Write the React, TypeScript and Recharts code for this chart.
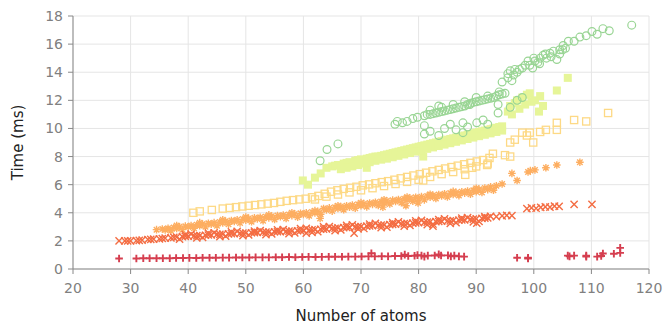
import { ScatterChart, Scatter, XAxis, YAxis, CartesianGrid, Label } from 'recharts';

type Pt = [number, number];

const X_TICKS = [20, 30, 40, 50, 60, 70, 80, 90, 100, 110, 120];
const Y_TICKS = [0, 2, 4, 6, 8, 10, 12, 14, 16, 18];

// crimson plus markers
const plusPts: Pt[] = [
  [28.0, 0.75], [31.0, 0.75], [32.2, 0.76], [33.3, 0.76], [34.5, 0.77], [35.6, 0.77], [36.8, 0.77],
  [37.9, 0.78], [39.1, 0.78], [40.2, 0.79], [41.4, 0.78], [42.5, 0.8], [43.7, 0.8], [44.8, 0.8],
  [46.0, 0.81], [47.1, 0.81], [48.3, 0.82], [49.4, 0.82], [50.6, 0.82], [51.7, 0.83], [52.9, 0.83],
  [54.0, 0.83], [55.2, 0.84], [56.3, 0.84], [57.5, 0.85], [58.6, 0.84], [59.8, 0.85], [60.9, 0.86],
  [62.1, 0.85], [63.2, 0.86], [64.4, 0.87], [65.5, 0.87], [66.7, 0.87], [67.8, 0.88], [69.0, 0.88],
  [70.1, 0.89], [71.3, 0.9], [71.8, 1.12], [72.4, 0.9], [73.6, 0.91], [74.7, 0.9], [75.9, 0.92],
  [77.0, 0.93], [77.6, 1.02], [78.2, 0.92], [79.3, 0.94], [79.8, 0.99], [80.5, 0.95], [81.0, 0.88],
  [81.6, 0.95], [82.8, 0.96], [83.5, 1.04], [83.9, 0.96], [85.1, 0.97], [85.6, 0.9], [86.2, 0.95],
  [87.0, 0.9], [87.9, 0.88],
  [97.1, 0.8], [99.0, 0.75], [99.0, 0.8],
  [105.9, 0.95], [106.2, 0.9], [107.0, 0.95], [109.1, 0.88], [109.1, 0.95], [111.0, 0.88],
  [111.7, 0.92], [112.0, 1.1], [113.9, 1.08], [115.0, 1.15], [115.0, 1.5],
];

// orange-red x markers
const xPts: Pt[] = [
  [28, 2.0], [29, 2.0], [30, 2.0], [31, 2.02], [32, 2.05], [33, 2.1], [34, 2.12], [35, 2.15],
  [36, 2.2], [37, 2.22], [38, 2.27], [39, 2.3], [40, 2.33], [41, 2.36], [42, 2.38], [43, 2.4],
  [44, 2.43], [45, 2.46], [46, 2.48], [47, 2.5], [48, 2.52], [49, 2.54], [50, 2.56], [51, 2.58],
  [52, 2.6], [53, 2.62], [54, 2.63], [55, 2.65], [56, 2.66], [57, 2.68], [58, 2.7], [59, 2.72],
  [60, 2.74], [61, 2.77], [62, 2.8], [63, 2.83], [64, 2.86], [65, 2.89], [66, 2.92], [67, 2.95],
  [68, 2.97], [69, 3.0], [70, 3.02], [71, 3.05], [72, 3.08], [73, 3.1], [74, 3.13], [75, 3.16],
  [76, 3.19], [77, 3.22], [78, 3.25], [79, 3.27], [80, 3.3], [81, 3.32], [82, 3.35], [83, 3.37],
  [84, 3.4], [85, 3.42], [86, 3.45], [87, 3.48], [88, 3.5], [89, 3.53], [90, 3.56], [91, 3.6], [92, 3.64],
  [29.5, 2.0], [31.5, 2.04], [33.5, 2.11], [35.5, 2.17], [37.5, 2.25], [39.5, 2.32], [41.5, 2.37],
  [43.5, 2.42], [45.5, 2.47], [47.5, 2.51], [49.5, 2.55], [51.5, 2.59], [53.5, 2.62], [55.5, 2.65],
  [57.5, 2.69], [59.5, 2.73], [61.5, 2.78], [63.5, 2.84], [65.5, 2.9], [67.5, 2.96], [69.5, 3.01],
  [71.5, 3.06], [73.5, 3.12], [75.5, 3.18], [77.5, 3.23], [79.5, 3.28], [81.5, 3.33], [83.5, 3.38],
  [85.5, 3.43], [87.5, 3.49], [89.5, 3.55], [91.5, 3.62],
  [38.5, 2.12], [40.5, 2.48], [42.5, 2.24], [44.5, 2.58], [46.5, 2.34], [48.5, 2.68], [50.5, 2.42],
  [52.5, 2.74], [54.5, 2.5], [56.5, 2.8], [58.5, 2.56], [60.5, 2.9], [62.5, 2.65], [64.5, 3.02],
  [66.5, 2.78], [68.5, 3.14], [70.5, 2.88], [72.5, 3.24], [74.5, 2.98], [76.5, 3.35], [78.5, 3.1],
  [80.5, 3.46], [82.5, 3.2], [84.5, 3.56], [86.5, 3.3], [88.5, 3.66], [90.5, 3.38], [92.5, 3.74],
  [39.5, 2.45], [43.5, 2.55], [47.5, 2.64], [51.5, 2.7], [55.5, 2.78], [59.5, 2.88], [63.5, 3.0],
  [67.5, 3.1], [71.5, 3.2], [75.5, 3.3], [79.5, 3.42], [83.5, 3.52], [87.5, 3.62], [91.5, 3.72],
  [41.5, 2.22], [45.5, 2.3], [49.5, 2.38], [53.5, 2.45], [57.5, 2.52], [61.5, 2.6], [65.5, 2.72],
  [69.5, 2.85], [73.5, 2.95], [77.5, 3.05], [81.5, 3.15], [85.5, 3.25], [89.5, 3.35],
  [68.8, 2.55], [60.5, 2.55], [82.5, 3.05], [90.1, 3.27],
  [93.5, 3.72], [94.5, 3.78], [95.3, 3.82], [96.2, 3.8],
  [98.8, 4.3], [99.6, 4.35], [100.4, 4.32], [101.2, 4.38], [102.0, 4.42], [102.8, 4.4], [103.6, 4.48],
  [104.4, 4.45], [107.0, 4.6], [110.1, 4.6],
];

// orange asterisks
const starPts: Pt[] = [
  [34.5, 2.8], [35.5, 2.85], [36.5, 2.9], [37.5, 2.95], [38.5, 3.0], [39.5, 3.05], [40.5, 3.1],
  [41.5, 3.15], [42.5, 3.2], [43.5, 3.25], [44.5, 3.3], [45.5, 3.35], [46.5, 3.4], [47.5, 3.45],
  [48.5, 3.5], [49.5, 3.55], [50.5, 3.6], [51.5, 3.64], [52.5, 3.68], [53.5, 3.72], [54.5, 3.76],
  [55.5, 3.8], [56.5, 3.84], [57.5, 3.88], [58.5, 3.92], [59.5, 3.96], [60.5, 4.0], [61.5, 4.05],
  [62.5, 4.1], [63.5, 4.3], [64.5, 4.35], [65.5, 4.4], [66.5, 4.45], [67.5, 4.5], [68.5, 4.55],
  [69.5, 4.6], [70.5, 4.65], [71.5, 4.7], [72.5, 4.75], [73.5, 4.8], [74.5, 4.85], [75.5, 4.9],
  [76.5, 4.95], [77.5, 5.0], [78.5, 5.05], [79.5, 5.1], [80.5, 5.15], [81.5, 5.2], [82.5, 5.25],
  [83.5, 5.3], [84.5, 5.35], [85.5, 5.4], [86.5, 5.45], [87.5, 5.5], [88.5, 5.55], [89.5, 5.6],
  [90.5, 5.68], [91.5, 5.76], [92.5, 5.84], [93.5, 5.92],
  [37, 2.72], [39, 2.8], [41, 2.9], [43, 3.0], [45, 3.08], [47, 3.18], [49, 3.28], [51, 3.36],
  [53, 3.44], [55, 3.52], [57, 3.6], [59, 3.68], [61, 3.78], [63, 3.9], [65, 4.12], [67, 4.22],
  [69, 4.32], [71, 4.42], [73, 4.52], [75, 4.62], [77, 4.72], [79, 4.82], [81, 4.92], [83, 5.02],
  [85, 5.12], [87, 5.22], [89, 5.32], [91, 5.45], [93, 5.6],
  [36, 2.78], [38, 2.88], [40, 2.98], [42, 3.08], [44, 3.18], [46, 3.28], [48, 3.38], [50, 3.47],
  [52, 3.56], [54, 3.64], [56, 3.72], [58, 3.8], [60, 3.88], [62, 3.98], [64, 4.2], [66, 4.3],
  [68, 4.4], [70, 4.5], [72, 4.6], [74, 4.7], [76, 4.8], [78, 4.9], [80, 5.0], [82, 5.1], [84, 5.2],
  [86, 5.3], [88, 5.4], [90, 5.5], [92, 5.65],
  [38, 3.1], [42, 3.3], [46, 3.5], [50, 3.7], [54, 3.85], [58, 4.0], [62, 4.15], [66, 4.5], [70, 4.72],
  [74, 4.92], [78, 5.12], [82, 5.32], [86, 5.52], [90, 5.75],
  [62.9, 3.6], [73.8, 4.4], [77.8, 4.5], [79.9, 4.7],
  [94.5, 6.05], [96.2, 6.8], [97.1, 6.3], [99.0, 6.9], [99.4, 7.0], [100.2, 7.05], [102.1, 7.2],
  [104.0, 7.4], [108.0, 7.6],
];

// yellow open squares
const openSqPts: Pt[] = [
  [40.9, 4.0], [42.0, 4.1], [44.1, 4.2], [46.0, 4.3], [47.2, 4.35], [48.3, 4.4], [49.4, 4.45],
  [50.5, 4.5], [51.6, 4.55], [52.7, 4.6], [53.8, 4.65], [54.9, 4.7], [56.0, 4.78], [57.1, 4.85],
  [58.2, 4.9], [59.3, 4.95], [60.4, 5.0], [61.5, 5.1], [62.6, 5.2], [63.7, 5.35], [64.8, 5.5],
  [65.9, 5.6], [67.0, 5.7], [68.1, 5.78], [69.2, 5.85], [70.3, 5.95], [71.4, 6.02], [72.5, 6.1],
  [73.6, 6.18], [74.7, 6.25], [75.8, 6.35], [76.9, 6.45], [78.0, 6.55], [79.1, 6.65], [80.2, 6.75],
  [81.3, 6.85], [82.4, 6.95], [83.5, 7.05], [84.6, 7.15], [85.7, 7.25], [86.8, 7.35], [87.9, 7.45],
  [89.0, 7.55], [90.1, 7.65], [91.2, 7.75], [92.3, 7.9],
  [62, 4.95], [64, 5.15], [66, 5.3], [68, 5.45], [70, 5.6], [72, 5.75], [74, 5.9], [76, 6.05],
  [78, 6.2], [80, 6.35], [82, 6.55], [84, 6.75], [86, 6.9], [88, 7.1], [90, 7.3], [92, 7.5],
  [80.8, 6.3], [88.1, 6.7], [89.3, 7.2], [91.9, 7.4], [92.9, 8.2], [95.0, 8.1], [95.9, 8.0],
  [95.9, 9.0], [96.7, 9.2], [98.0, 9.7], [98.8, 9.5], [99.3, 9.7], [99.9, 9.0], [101.1, 9.75],
  [102.1, 9.9], [104.0, 10.4], [104.0, 9.9], [107.0, 10.6], [109.1, 10.5], [112.9, 11.1],
];

// light green filled squares
const filledSqPts: Pt[] = [
  [59.9, 6.3], [60.8, 6.0], [62.0, 6.5], [63.0, 6.8], [64.0, 7.2], [65.0, 7.3], [66.0, 7.4],
  [67.0, 7.5], [68.0, 7.6], [69.0, 7.7], [70.0, 7.8], [71.0, 7.2], [71.5, 7.9], [72.5, 8.0],
  [73.5, 8.05], [74.5, 8.15], [75.5, 8.25], [76.5, 8.35], [77.5, 8.45], [78.5, 8.55], [79.5, 8.65],
  [80.5, 8.75], [80.8, 8.0], [81.5, 8.85], [82.5, 8.95], [83.5, 9.05], [84.5, 9.15], [85.5, 9.25],
  [86.5, 9.35], [87.5, 9.45], [88.5, 9.55], [89.5, 9.65], [90.5, 9.75], [91.5, 9.85], [92.5, 9.95],
  [93.5, 10.05], [94.5, 10.15],
  [65.5, 7.35], [67.5, 7.55], [69.5, 7.75], [71, 7.85], [72, 7.95], [73, 8.0], [74, 8.1], [75, 8.2],
  [76, 8.3], [77, 8.4], [78, 8.5], [79, 8.6], [80, 8.7], [81, 8.8], [82, 8.9], [83, 9.0], [84, 9.1],
  [85, 9.2], [86, 9.3], [87, 9.4], [88, 9.5], [89, 9.6], [90, 9.7], [91, 9.8], [92, 9.9], [93, 10.0],
  [94, 10.1],
  [66.5, 7.1], [68.5, 7.3], [70.5, 7.5], [72.5, 7.7], [74.5, 7.85], [76.5, 8.05], [78.5, 8.25],
  [80.5, 8.45], [82.5, 8.65], [84.5, 8.85], [86.5, 9.05], [88.5, 9.25], [90.5, 9.45], [92.5, 9.65],
  [94.5, 9.85],
  [67.5, 7.2], [69.5, 7.4], [71.5, 7.6], [73.5, 7.78], [75.5, 7.95], [77.5, 8.15], [79.5, 8.35],
  [81.5, 8.55], [83.5, 8.75], [85.5, 8.95], [87.5, 9.15], [89.5, 9.35], [91.5, 9.55], [93.5, 9.75],
  [95.5, 11.2], [95.9, 11.6], [96.2, 11.0], [96.7, 11.8], [97.1, 12.0], [97.5, 11.4], [98.0, 12.2],
  [98.5, 11.7], [98.8, 12.4], [99.3, 12.5], [99.6, 11.9], [100.2, 12.0], [100.9, 11.2], [101.1, 12.3],
  [101.6, 11.6], [104.0, 12.7], [105.9, 13.6],
];

// green open circles
const circlePts: Pt[] = [
  [62.9, 7.7], [64.1, 8.5], [66.0, 8.9],
  [75.9, 10.3], [76.3, 10.5], [77.2, 10.4], [78.0, 10.5], [79.0, 10.7], [79.8, 10.8],
  [81, 10.9], [82, 11.0], [83, 11.1], [83.5, 11.6], [84, 11.2], [85, 11.3], [86, 11.4], [87, 11.5],
  [88, 11.6], [89, 11.8], [90, 11.9], [91, 12.0], [92, 12.1], [93, 12.2], [94, 12.4], [95, 12.5],
  [82, 11.3], [84, 11.5], [86, 11.7], [88, 11.9], [90, 12.2], [92, 12.3], [94, 12.6],
  [81.5, 11.0], [82.5, 11.05], [83.5, 11.15], [84.5, 11.25], [85.5, 11.35], [86.5, 11.45],
  [87.5, 11.55], [88.5, 11.7], [89.5, 11.85], [90.5, 11.95], [91.5, 12.05], [92.5, 12.15],
  [93.5, 12.3], [94.5, 12.45],
  [81, 9.6], [81, 10.2], [82, 9.8], [83.5, 9.5], [84.5, 10.0], [85.5, 10.3], [86.5, 9.9], [87.7, 9.7],
  [87.7, 10.4], [88.5, 10.1], [88.9, 11.7], [90.1, 10.4], [91.2, 10.6], [92, 10.3], [93.8, 11.1],
  [93.8, 11.7], [95.9, 11.5], [97.1, 12.0], [98.0, 12.2],
  [94.5, 13.3], [95.5, 13.6], [95.5, 13.9], [95.9, 14.1], [96.2, 13.4], [96.5, 13.8], [96.7, 14.2],
  [97.1, 14.0], [97.5, 14.2], [98.0, 14.3], [98.5, 14.5], [99.0, 14.8], [99.3, 14.5], [99.8, 14.3],
  [100.0, 15.0], [100.2, 14.8], [100.7, 14.7], [101.0, 14.6], [101.1, 15.0], [101.6, 15.2],
  [102.0, 15.3], [102.2, 15.0], [102.8, 15.35], [103.0, 15.1], [103.4, 15.5], [104.0, 14.9],
  [104.5, 15.6], [104.5, 15.3], [105.0, 15.6], [105.1, 15.9], [105.5, 15.7], [106.0, 16.2],
  [107.0, 16.2], [108.0, 16.5], [109.1, 16.6], [110.1, 16.9], [111.0, 16.7], [112.0, 17.1],
  [113.1, 16.95], [117.0, 17.35],
];

const rows = (pts: Pt[]) => pts.map(([x, y]) => ({ x, y }));

const marker = (kind: string, color: string) => (props: any) => {
  const { cx, cy } = props;
  if (cx == null || cy == null) return <g />;
  const r = 3.8;
  const d = r * 0.72;
  if (kind === 'circle') {
    return <circle cx={cx} cy={cy} r={3.9} fill="none" stroke={color} strokeWidth={1.2} />;
  }
  if (kind === 'fsquare') {
    return <rect x={cx - 4} y={cy - 4} width={8} height={8} fill={color} />;
  }
  if (kind === 'osquare') {
    return <rect x={cx - 3.6} y={cy - 3.6} width={7.2} height={7.2} fill="none" stroke={color} strokeWidth={1.3} />;
  }
  if (kind === 'star') {
    return (
      <path
        d={`M${cx - r},${cy}H${cx + r}M${cx},${cy - r}V${cy + r}M${cx - d},${cy - d}L${cx + d},${cy + d}M${cx - d},${cy + d}L${cx + d},${cy - d}`}
        stroke={color}
        strokeWidth={1.4}
      />
    );
  }
  if (kind === 'x') {
    return (
      <path
        d={`M${cx - 3.6},${cy - 3.6}L${cx + 3.6},${cy + 3.6}M${cx - 3.6},${cy + 3.6}L${cx + 3.6},${cy - 3.6}`}
        stroke={color}
        strokeWidth={1.4}
      />
    );
  }
  return (
    <path d={`M${cx - r},${cy}H${cx + r}M${cx},${cy - r}V${cy + r}`} stroke={color} strokeWidth={1.9} />
  );
};

const series = [
  { name: 'filled squares', pts: filledSqPts, kind: 'fsquare', color: '#e6f598' },
  { name: 'circles', pts: circlePts, kind: 'circle', color: '#99d594' },
  { name: 'open squares', pts: openSqPts, kind: 'osquare', color: '#fdd985' },
  { name: 'asterisks', pts: starPts, kind: 'star', color: '#fdae61' },
  { name: 'crosses', pts: xPts, kind: 'x', color: '#f46d43' },
  { name: 'plus', pts: plusPts, kind: 'plus', color: '#d53e4f' },
];

const tickStyle = { fill: '#808080', fontSize: 14 };

const YTitle = (props: any) => {
  const vb = props.viewBox || { x: 0, y: 0, height: 0 };
  const cx = vb.x + 23;
  const cy = vb.y + vb.height / 2;
  return (
    <text x={cx} y={cy} transform={`rotate(-90 ${cx} ${cy})`} textAnchor="middle" fill="#222" fontSize={15}>
      Time (ms)
    </text>
  );
};

export default function App() {
  return (
    <div style={{ position: 'absolute', left: 0, top: 0, fontFamily: 'DejaVu Sans' }}>
      <ScatterChart width={667} height={325} margin={{ top: 16, right: 18, bottom: 0, left: 0 }}>
        <CartesianGrid stroke="#e5e5e5" />
        <XAxis
          type="number"
          dataKey="x"
          domain={[20, 120]}
          ticks={X_TICKS}
          height={56}
          tickSize={5}
          tickMargin={9}
          stroke="#888"
          tick={tickStyle}
          allowDataOverflow
        >
          <Label value="Number of atoms" position="insideBottom" offset={4} fill="#222" fontSize={15} />
        </XAxis>
        <YAxis
          type="number"
          dataKey="y"
          domain={[0, 18]}
          ticks={Y_TICKS}
          width={73}
          tickSize={5}
          tickMargin={5}
          stroke="#888"
          tick={tickStyle}
          allowDataOverflow
        >
          <Label content={<YTitle />} />
        </YAxis>
        {series.map((s) => (
          <Scatter
            key={s.name}
            name={s.name}
            data={rows(s.pts)}
            fill={s.color}
            shape={marker(s.kind, s.color)}
            isAnimationActive={false}
          />
        ))}
      </ScatterChart>
    </div>
  );
}
